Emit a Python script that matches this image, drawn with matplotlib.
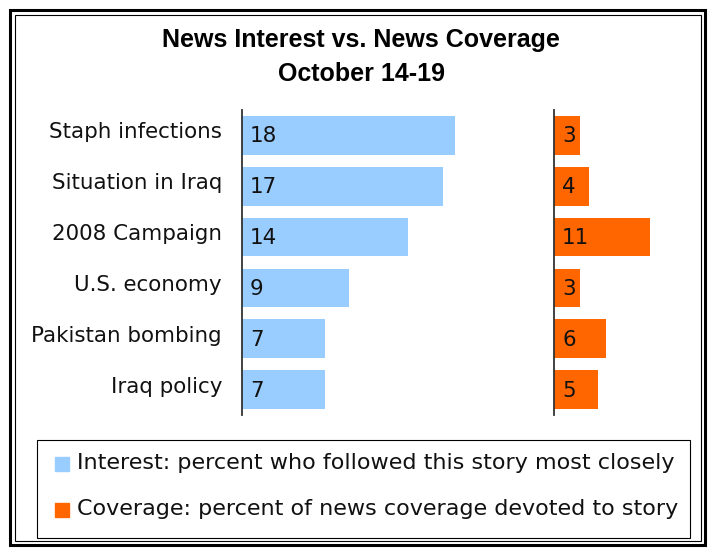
import matplotlib
matplotlib.use("Agg")
import matplotlib.pyplot as plt
from matplotlib.patches import Rectangle

categories = ["Staph infections", "Situation in Iraq", "2008 Campaign",
              "U.S. economy", "Pakistan bombing", "Iraq policy"]
interest = [18, 17, 14, 9, 7, 7]
coverage = [3, 4, 11, 3, 6, 5]
title_lines = ["News Interest vs. News Coverage", "October 14-19"]
legend_labels = ["Interest: percent who followed this story most closely",
                 "Coverage: percent of news coverage devoted to story"]

BLUE = "#99CCFF"
ORANGE = "#FF6600"
W, H = 710, 549
fig = plt.figure(figsize=(W / 100, H / 100), dpi=100)

def fx(x):
    return x / W

def fy(y):
    return 1 - y / H

def add_ax(x0, y0, x1, y1):
    return fig.add_axes([fx(x0), fy(y1), fx(x1) - fx(x0), fy(y0) - fy(y1)])

LABEL_FONT = "DejaVu Sans"
fs = 15.4
lfs = 16

top, bot = 110, 415
left_scale = 11.85
right_scale = 8.7
axL = add_ax(242, top, 242 + left_scale * 20, bot)
axR = add_ax(554, top, 554 + right_scale * 15, bot)

ypos = list(range(len(categories)))
for ax, vals, col, xmax in [(axL, interest, BLUE, 20), (axR, coverage, ORANGE, 15)]:
    ax.barh(ypos, vals, height=0.76, color=col, edgecolor="none")
    ax.set_xlim(0, xmax)
    ax.set_ylim(len(categories) - 0.5, -0.5)
    for s in ["top", "right", "bottom"]:
        ax.spines[s].set_visible(False)
    ax.spines["left"].set_color("#333333")
    ax.spines["left"].set_linewidth(1.3)
    ax.set_xticks([])
    ax.set_yticks([])
    ax.patch.set_alpha(0)
    for y, v in zip(ypos, vals):
        ax.annotate(str(v), xy=(0, y), xytext=(8, -1), textcoords="offset pixels",
                    ha="left", va="center", fontsize=fs, family=LABEL_FONT, color="#111111")

for y, c in zip(ypos, categories):
    axL.annotate(c, xy=(0, y), xytext=(-20, 3), textcoords="offset pixels",
                 ha="right", va="center", fontsize=fs, family=LABEL_FONT, color="#111111")

fig.text(fx(361), fy(40), title_lines[0], ha="center", va="center",
         fontsize=18, fontweight="bold", family="Liberation Sans")
fig.text(fx(362), fy(74), title_lines[1], ha="center", va="center",
         fontsize=18, fontweight="bold", family="Liberation Sans")

# borders
fig.patches.append(Rectangle((fx(10), fy(545)), fx(705) - fx(10), fy(10) - fy(545),
                             transform=fig.transFigure, fill=False, edgecolor="black", linewidth=2.2))
fig.patches.append(Rectangle((fx(14.5), fy(540.5)), fx(700.5) - fx(14.5), fy(14.5) - fy(540.5),
                             transform=fig.transFigure, fill=False, edgecolor="black", linewidth=0.8))
# legend box
fig.patches.append(Rectangle((fx(37), fy(538)), fx(690) - fx(37), fy(440) - fy(538),
                             transform=fig.transFigure, fill=False, edgecolor="black", linewidth=0.8))
for i, (lab, col) in enumerate(zip(legend_labels, [BLUE, ORANGE])):
    yc = 464 + i * 46
    fig.patches.append(Rectangle((fx(55), fy(yc + 7)), fx(69) - fx(55), fy(yc - 7) - fy(yc + 7),
                                 transform=fig.transFigure, color=col))
    fig.text(fx(77), fy(yc - 1), lab, ha="left", va="center", fontsize=lfs,
             family=LABEL_FONT, color="#111111")

fig.savefig("out.png", dpi=100)
